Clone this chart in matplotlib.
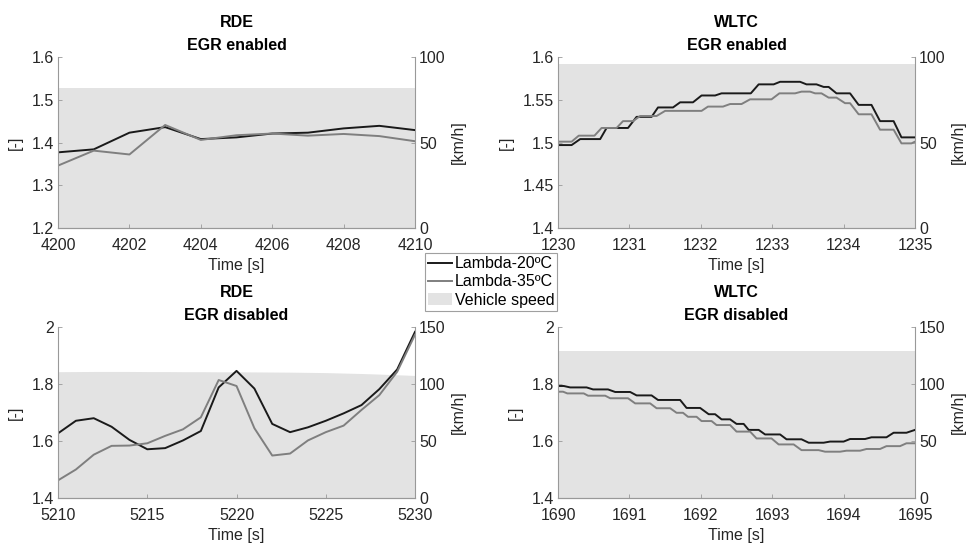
import numpy as np
import matplotlib
matplotlib.use('Agg')
import matplotlib.pyplot as plt
from matplotlib.ticker import FormatStrFormatter

# Arial-like font, MATLAB look
plt.rcParams['font.family'] = ['Liberation Sans', 'DejaVu Sans']
plt.rcParams['font.size'] = 11.5

# ============================================================
# Data
# ============================================================
# RDE - EGR enabled (1 s samples)
rde_on_t = [4200, 4201, 4202, 4203, 4204, 4205, 4206, 4207, 4208, 4209, 4210]
rde_on_l20 = [1.377, 1.384, 1.423, 1.436, 1.408, 1.412, 1.421, 1.423, 1.433, 1.439, 1.429]
rde_on_l35 = [1.346, 1.381, 1.372, 1.441, 1.406, 1.417, 1.421, 1.416, 1.420, 1.415, 1.403]
rde_on_speed = [82.1, 82.1, 82.1, 82.1, 82.1, 82.1, 82.1, 82.1, 82.1, 82.1, 82.1]

# WLTC - EGR enabled (stair-like signal, corner points)
wltc_on_t20 = [1230.00, 1230.19, 1230.31, 1230.59, 1230.68, 1230.98, 1231.10, 1231.31,
               1231.40, 1231.61, 1231.71, 1231.89, 1232.01, 1232.20, 1232.29, 1232.70,
               1232.81, 1233.02, 1233.11, 1233.39, 1233.48, 1233.62, 1233.72, 1233.79,
               1233.90, 1234.09, 1234.21, 1234.39, 1234.51, 1234.70, 1234.81, 1235.00]
wltc_on_l20 = [1.497, 1.497, 1.504, 1.504, 1.517, 1.517, 1.530, 1.530,
               1.541, 1.541, 1.547, 1.547, 1.555, 1.555, 1.5575, 1.5575,
               1.568, 1.568, 1.571, 1.571, 1.568, 1.568, 1.565, 1.565,
               1.5575, 1.5575, 1.544, 1.544, 1.525, 1.525, 1.506, 1.506]
wltc_on_t35 = [1230.00, 1230.19, 1230.29, 1230.51, 1230.61, 1230.82, 1230.91, 1231.05,
               1231.15, 1231.38, 1231.50, 1232.01, 1232.10, 1232.31, 1232.41, 1232.57,
               1232.69, 1232.99, 1233.10, 1233.32, 1233.41, 1233.53, 1233.60, 1233.69,
               1233.79, 1233.90, 1234.02, 1234.09, 1234.21, 1234.39, 1234.51, 1234.70,
               1234.81, 1234.95, 1235.00]
wltc_on_l35 = [1.501, 1.501, 1.508, 1.508, 1.517, 1.517, 1.525, 1.525,
               1.531, 1.531, 1.537, 1.537, 1.542, 1.542, 1.545, 1.545,
               1.5505, 1.5505, 1.5575, 1.5575, 1.5595, 1.5595, 1.5575, 1.5575,
               1.5525, 1.5525, 1.546, 1.546, 1.533, 1.533, 1.515, 1.515,
               1.499, 1.499, 1.501]
wltc_on_speed_t = [1230, 1235]
wltc_on_speed = [95.7, 95.7]

# RDE - EGR disabled (1 s samples)
rde_off_t = [5210, 5211, 5212, 5213, 5214, 5215, 5216, 5217, 5218, 5219, 5220,
             5221, 5222, 5223, 5224, 5225, 5226, 5227, 5228, 5229, 5230]
rde_off_l20 = [1.627, 1.671, 1.680, 1.650, 1.604, 1.571, 1.575, 1.602, 1.635, 1.788, 1.846,
               1.784, 1.660, 1.631, 1.648, 1.671, 1.697, 1.726, 1.782, 1.851, 1.983]
rde_off_l35 = [1.462, 1.500, 1.552, 1.583, 1.584, 1.592, 1.618, 1.641, 1.683, 1.814, 1.793,
               1.645, 1.549, 1.556, 1.602, 1.631, 1.654, 1.709, 1.761, 1.843, 1.973]
rde_off_speed = [110.8, 110.9, 111.0, 111.0, 111.0, 110.9, 110.9, 110.8, 110.8, 110.7, 110.7,
                 110.6, 110.5, 110.4, 110.2, 110.0, 109.6, 109.2, 108.7, 108.1, 107.5]

# WLTC - EGR disabled (stair-like signal, corner points)
wltc_off_t20 = [1690.00, 1690.08, 1690.17, 1690.40, 1690.49, 1690.70, 1690.80, 1691.01,
                1691.10, 1691.31, 1691.40, 1691.71, 1691.80, 1691.99, 1692.11, 1692.20,
                1692.29, 1692.41, 1692.50, 1692.60, 1692.67, 1692.81, 1692.90, 1693.11,
                1693.20, 1693.41, 1693.51, 1693.72, 1693.81, 1694.00, 1694.09, 1694.30,
                1694.39, 1694.60, 1694.70, 1694.88, 1695.00]
wltc_off_l20 = [1.793, 1.793, 1.788, 1.788, 1.781, 1.781, 1.772, 1.772,
                1.760, 1.760, 1.744, 1.744, 1.716, 1.716, 1.694, 1.694,
                1.676, 1.676, 1.660, 1.660, 1.639, 1.639, 1.623, 1.623,
                1.606, 1.606, 1.594, 1.594, 1.598, 1.598, 1.607, 1.607,
                1.613, 1.613, 1.629, 1.629, 1.639]
wltc_off_t35 = [1690.00, 1690.07, 1690.13, 1690.36, 1690.42, 1690.66, 1690.73, 1690.98,
                1691.08, 1691.29, 1691.38, 1691.57, 1691.66, 1691.75, 1691.82, 1691.94,
                1692.01, 1692.15, 1692.22, 1692.41, 1692.50, 1692.69, 1692.78, 1692.99,
                1693.09, 1693.30, 1693.41, 1693.65, 1693.74, 1693.95, 1694.04, 1694.23,
                1694.32, 1694.51, 1694.60, 1694.79, 1694.88, 1695.00]
wltc_off_l35 = [1.773, 1.773, 1.767, 1.767, 1.759, 1.759, 1.750, 1.750,
                1.732, 1.732, 1.715, 1.715, 1.699, 1.699, 1.685, 1.685,
                1.670, 1.670, 1.656, 1.656, 1.633, 1.633, 1.609, 1.609,
                1.588, 1.588, 1.568, 1.568, 1.5625, 1.5625, 1.566, 1.566,
                1.572, 1.572, 1.582, 1.582, 1.592, 1.592]
wltc_off_speed_t = [1690, 1695]
wltc_off_speed = [128.8, 128.8]

labels = ['Lambda-20ºC', 'Lambda-35ºC', 'Vehicle speed']

# ============================================================
# Style
# ============================================================
C20 = '#1a1a1a'
C35 = '#7f7f7f'
FILL = '#e3e3e3'
SPINE = '#999999'
TXT = '#262626'


def draw_panel(ax, t20, l20, t35, l35, ts, speed, title, xticks, yticks, vticks, yfmt):
    ax2 = ax.twinx()
    fill = ax2.fill_between(ts, 0, speed, color=FILL, lw=0)
    h20, = ax.plot(t20, l20, color=C20, lw=1.4)
    h35, = ax.plot(t35, l35, color=C35, lw=1.4)
    # lines above the speed area
    ax.set_zorder(ax2.get_zorder() + 1)
    ax.patch.set_visible(False)

    ax.set_xlim(xticks[0], xticks[-1])
    ax.set_xticks(xticks)
    ax.set_ylim(yticks[0], yticks[-1])
    ax.set_yticks(yticks)
    ax.yaxis.set_major_formatter(FormatStrFormatter(yfmt))
    ax2.set_ylim(vticks[0], vticks[-1])
    ax2.set_yticks(vticks)

    for a in (ax, ax2):
        a.spines['top'].set_visible(False)
        for s in ('left', 'right', 'bottom'):
            a.spines[s].set_color(SPINE)
            a.spines[s].set_linewidth(0.8)
        a.tick_params(direction='in', length=3, width=0.6, color=SPINE, labelcolor=TXT,
                      labelsize=11.5, pad=3)
    ax.tick_params(axis='x', pad=7)
    ax2.spines['left'].set_visible(False)
    ax.spines['right'].set_visible(False)

    ax.set_title(title, fontsize=11.5, fontweight='bold', linespacing=1.65, pad=5)
    ax.set_xlabel('Time [s]', fontsize=11.5, color=TXT, labelpad=4)
    ax.set_ylabel('[-]', fontsize=11.5, color=TXT, labelpad=6)
    ax2.set_ylabel('[km/h]', fontsize=11.5, color=TXT, labelpad=4)
    return [h20, h35, fill]


fig = plt.figure(figsize=(9.69, 5.46), dpi=100)
W, H = 0.3684, 0.3132
ax_a = fig.add_axes([0.0599, 0.5824, W, H])
ax_b = fig.add_axes([0.5759, 0.5824, W, H])
ax_c = fig.add_axes([0.0599, 0.0879, W, H])
ax_d = fig.add_axes([0.5759, 0.0879, W, H])

handles = draw_panel(ax_a, rde_on_t, rde_on_l20, rde_on_t, rde_on_l35, rde_on_t, rde_on_speed,
                     'RDE\nEGR enabled', np.arange(4200, 4211, 2),
                     [1.2, 1.3, 1.4, 1.5, 1.6], [0, 50, 100], '%g')
draw_panel(ax_b, wltc_on_t20, wltc_on_l20, wltc_on_t35, wltc_on_l35, wltc_on_speed_t, wltc_on_speed,
           'WLTC\nEGR enabled', np.arange(1230, 1236, 1),
           [1.4, 1.45, 1.5, 1.55, 1.6], [0, 50, 100], '%g')
draw_panel(ax_c, rde_off_t, rde_off_l20, rde_off_t, rde_off_l35, rde_off_t, rde_off_speed,
           'RDE\nEGR disabled', np.arange(5210, 5231, 5),
           [1.4, 1.6, 1.8, 2.0], [0, 50, 100, 150], '%g')
draw_panel(ax_d, wltc_off_t20, wltc_off_l20, wltc_off_t35, wltc_off_l35, wltc_off_speed_t, wltc_off_speed,
           'WLTC\nEGR disabled', np.arange(1690, 1696, 1),
           [1.4, 1.6, 1.8, 2.0], [0, 50, 100, 150], '%g')

leg = fig.legend(handles, labels, loc='upper left', bbox_to_anchor=(0.4386, 0.5366),
                 borderaxespad=0, fontsize=11.5, handlelength=1.5, handletextpad=0.15,
                 labelspacing=0.2, borderpad=0.2, fancybox=False, framealpha=1)
leg.get_frame().set_edgecolor('#a0a0a0')
leg.get_frame().set_linewidth(0.8)

fig.savefig('out.png', dpi=100)
